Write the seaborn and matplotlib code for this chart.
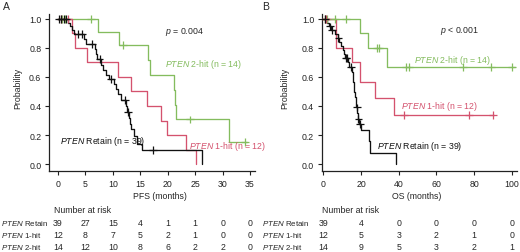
import matplotlib
matplotlib.use("Agg")
import numpy as np
import pandas as pd
import seaborn as sns
import matplotlib.pyplot as plt
from matplotlib import transforms

# ---- data ----
GROUPS = ["2-hit", "1-hit", "Retain"]
COLORS = {"Retain": "#111111", "1-hit": "#d4526e", "2-hit": "#84bc5e"}

# PFS (panel A) step curves: time (months) / survival after the step
pfs_retain_t = [0, 1.9, 2.3, 2.6, 3.0, 4.8, 5.2, 6.7, 6.9, 7.1, 7.9, 8.2, 8.7, 9.3, 10.2, 10.6,
                11.0, 11.5, 12.4, 12.6, 12.9, 13.1, 13.3, 13.8, 14.5, 15.3, 26.2]
pfs_retain_s = [1.0, 0.974, 0.948, 0.921, 0.895, 0.862, 0.829, 0.793, 0.757, 0.721, 0.684, 0.650,
                0.617, 0.586, 0.55, 0.515, 0.48, 0.443, 0.40, 0.357, 0.315, 0.276, 0.24, 0.19,
                0.14, 0.099, 0.0]
pfs_retain_cens_t = [0.2, 0.6, 1.1, 1.5, 3.6, 4.4, 6.3, 7.6, 9.7, 12.2, 12.8, 17.3]
pfs_retain_cens_s = [1, 1, 1, 1, 0.895, 0.895, 0.829, 0.721, 0.586, 0.443, 0.357, 0.099]

pfs_1hit_t = [0, 2.5, 3.2, 5.4, 11.0, 13.3, 16.2, 18.7, 19.9, 23.4, 25.1]
pfs_1hit_s = [1.0, 0.9, 0.8, 0.7, 0.6, 0.5, 0.4, 0.3, 0.2, 0.1, 0.0]
pfs_1hit_cens_t = [0.6, 1.8]
pfs_1hit_cens_s = [1, 1]

pfs_2hit_t = [0, 7.4, 11.2, 16.5, 16.8, 21.1, 21.3, 21.5, 31.2, 34.4]
pfs_2hit_s = [1.0, 0.909, 0.818, 0.716, 0.614, 0.511, 0.409, 0.307, 0.153, 0.153]
pfs_2hit_cens_t = [0.8, 1.3, 6.0, 11.8, 24.0, 34.1]
pfs_2hit_cens_s = [1, 1, 1, 0.818, 0.307, 0.153]

# OS (panel B)
os_retain_t = [0, 2.0, 3.0, 4.0, 6.0, 7.5, 8.5, 9.6, 10.3, 11.0, 11.5, 13.0, 13.8, 15.3, 15.6,
               15.9, 16.2, 16.5, 16.8, 17.1, 17.4, 18.0, 18.4, 18.8, 19.8, 24.0, 24.9, 38.6]
os_retain_s = [1.0, 0.974, 0.948, 0.922, 0.896, 0.869, 0.842, 0.815, 0.787, 0.759, 0.731, 0.70,
               0.67, 0.635, 0.60, 0.565, 0.53, 0.495, 0.46, 0.425, 0.39, 0.35, 0.31, 0.273,
               0.237, 0.158, 0.079, 0.0]
os_retain_cens_t = [1.0, 3.5, 4.6, 8.0, 11.8, 12.3, 14.6, 17.8, 18.6, 19.3]
os_retain_cens_s = [1.0, 0.948, 0.922, 0.869, 0.731, 0.731, 0.67, 0.39, 0.31, 0.273]

os_1hit_t = [0, 6.9, 15.2, 19.6, 27.5, 37.6, 90.5]
os_1hit_s = [1.0, 0.8, 0.7, 0.568, 0.455, 0.34, 0.34]
os_1hit_cens_t = [0.8, 1.6, 42.9, 77.4, 90.1]
os_1hit_cens_s = [1, 1, 0.34, 0.34, 0.34]

os_2hit_t = [0, 19.2, 23.5, 34.0, 101.5]
os_2hit_s = [1.0, 0.9, 0.8, 0.667, 0.667]
os_2hit_cens_t = [1.0, 1.9, 6.3, 12.2, 28.5, 29.5, 43.7, 45.5, 74.3, 89.2, 100.2]
os_2hit_cens_s = [1, 1, 1, 1, 0.8, 0.8, 0.667, 0.667, 0.667, 0.667, 0.667]

# numbers at risk
pfs_ticks = [0, 5, 10, 15, 20, 25, 30, 35]
pfs_risk = {"Retain": [39, 27, 15, 4, 1, 1, 0, 0],
            "1-hit": [12, 8, 7, 5, 2, 1, 0, 0],
            "2-hit": [14, 12, 10, 8, 6, 2, 2, 0]}
os_ticks = [0, 20, 40, 60, 80, 100]
os_risk = {"Retain": [39, 4, 0, 0, 0, 0],
           "1-hit": [12, 5, 3, 2, 1, 0],
           "2-hit": [14, 9, 5, 3, 2, 1]}


def long_df(curves):
    rows = []
    for g, (t, s) in curves.items():
        rows += [{"time": a, "surv": b, "group": g} for a, b in zip(t, s)]
    return pd.DataFrame(rows)


sns.set_style("ticks")
plt.rcParams["font.family"] = ["Liberation Sans", "DejaVu Sans"]
plt.rcParams["mathtext.fontset"] = "custom"
plt.rcParams["mathtext.it"] = "Liberation Sans:italic"
plt.rcParams["mathtext.rm"] = "Liberation Sans"

FS = 6.3
fig = plt.figure(figsize=(5.2, 2.53), dpi=100)
axA = fig.add_axes([49 / 520, 81 / 253, 206 / 520, 157 / 253])
axB = fig.add_axes([321.7 / 520, 81 / 253, 195 / 520, 157 / 253])


def draw_panel(ax, curves, cens, xlim, ticks, xlabel, labcoords, ylabcoord):
    df = long_df(curves)
    cdf = long_df(cens)
    sns.lineplot(data=df, x="time", y="surv", hue="group", hue_order=GROUPS,
                 palette=COLORS, drawstyle="steps-post", estimator=None,
                 linewidth=0.95, legend=False, ax=ax)
    sns.scatterplot(data=cdf, x="time", y="surv", hue="group", hue_order=GROUPS,
                    palette=COLORS, marker="+", s=32, linewidth=0.9, legend=False,
                    ax=ax, zorder=5)
    ax.set_xlim(*xlim)
    ax.set_ylim(-0.048, 1.034)
    ax.set_xticks(ticks)
    ax.set_yticks([0, 0.2, 0.4, 0.6, 0.8, 1.0])
    ax.set_yticklabels(["0.0", "0.2", "0.4", "0.6", "0.8", "1.0"])
    ax.tick_params(labelsize=FS, length=3, width=0.8, pad=2.5, colors="#222222")
    for sp in ["top", "right"]:
        ax.spines[sp].set_visible(False)
    for sp in ["left", "bottom"]:
        ax.spines[sp].set_linewidth(0.9)
        ax.spines[sp].set_color("#222222")
    ax.set_xlabel(xlabel, fontsize=FS)
    ax.xaxis.set_label_coords(labcoords, -0.125)
    ax.set_ylabel("Probability", fontsize=FS)
    ax.yaxis.set_label_coords(ylabcoord, 0.53)


draw_panel(axA,
           {"2-hit": (pfs_2hit_t, pfs_2hit_s), "1-hit": (pfs_1hit_t, pfs_1hit_s),
            "Retain": (pfs_retain_t, pfs_retain_s)},
           {"2-hit": (pfs_2hit_cens_t, pfs_2hit_cens_s), "1-hit": (pfs_1hit_cens_t, pfs_1hit_cens_s),
            "Retain": (pfs_retain_cens_t, pfs_retain_cens_s)},
           (-1.6, 35.9), pfs_ticks, "PFS (months)", 0.539, -0.131)
draw_panel(axB,
           {"2-hit": (os_2hit_t, os_2hit_s), "1-hit": (os_1hit_t, os_1hit_s),
            "Retain": (os_retain_t, os_retain_s)},
           {"2-hit": (os_2hit_cens_t, os_2hit_cens_s), "1-hit": (os_1hit_cens_t, os_1hit_cens_s),
            "Retain": (os_retain_cens_t, os_retain_cens_s)},
           (-0.9, 102.6), os_ticks, "OS (months)", 0.487, -0.168)

# in-plot annotations
axA.text(19.5, 0.917, "$p$ = 0.004", fontsize=FS, va="center")
axA.text(19.5, 0.69, "$\\mathit{PTEN}$ 2-hit (n = 14)", fontsize=FS, va="center", color=COLORS["2-hit"])
axA.text(0.4, 0.16, "$\\mathit{PTEN}$ Retain (n = 39)", fontsize=FS, va="center", color=COLORS["Retain"])
axA.text(23.9, 0.13, "$\\mathit{PTEN}$ 1-hit (n = 12)", fontsize=FS, va="center", color=COLORS["1-hit"])

axB.text(61.9, 0.926, "$p$ < 0.001", fontsize=FS, va="center")
axB.text(48.1, 0.717, "$\\mathit{PTEN}$ 2-hit (n = 14)", fontsize=FS, va="center", color=COLORS["2-hit"])
axB.text(41.1, 0.40, "$\\mathit{PTEN}$ 1-hit (n = 12)", fontsize=FS, va="center", color=COLORS["1-hit"])
axB.text(28.4, 0.13, "$\\mathit{PTEN}$ Retain (n = 39)", fontsize=FS, va="center", color=COLORS["Retain"])

# panel letters
fig.text(3 / 520, 1 - 2 / 253, "A", fontsize=7.5, va="top")
fig.text(262 / 520, 1 - 2 / 253, "B", fontsize=7.5, va="top")

# number at risk tables
row_y = {"Retain": 1 - 224 / 253, "1-hit": 1 - 236 / 253, "2-hit": 1 - 248 / 253}
for ax, ticks, risk, lab_x, nar_x in [(axA, pfs_ticks, pfs_risk, 1, -0.7),
                                      (axB, os_ticks, os_risk, 262, -1.0)]:
    tr = transforms.blended_transform_factory(ax.transData, fig.transFigure)
    ax.text(nar_x, 1 - 211 / 253, "Number at risk", transform=tr, fontsize=FS,
            va="center", clip_on=False)
    for g in ["Retain", "1-hit", "2-hit"]:
        fig.text(lab_x / 520, row_y[g], "$\\mathit{PTEN}$ " + g, fontsize=5.7, va="center")
        for t, n in zip(ticks, risk[g]):
            ax.text(t, row_y[g], str(n), transform=tr, fontsize=FS, ha="center",
                    va="center", clip_on=False)

fig.savefig("out.png", dpi=100)
